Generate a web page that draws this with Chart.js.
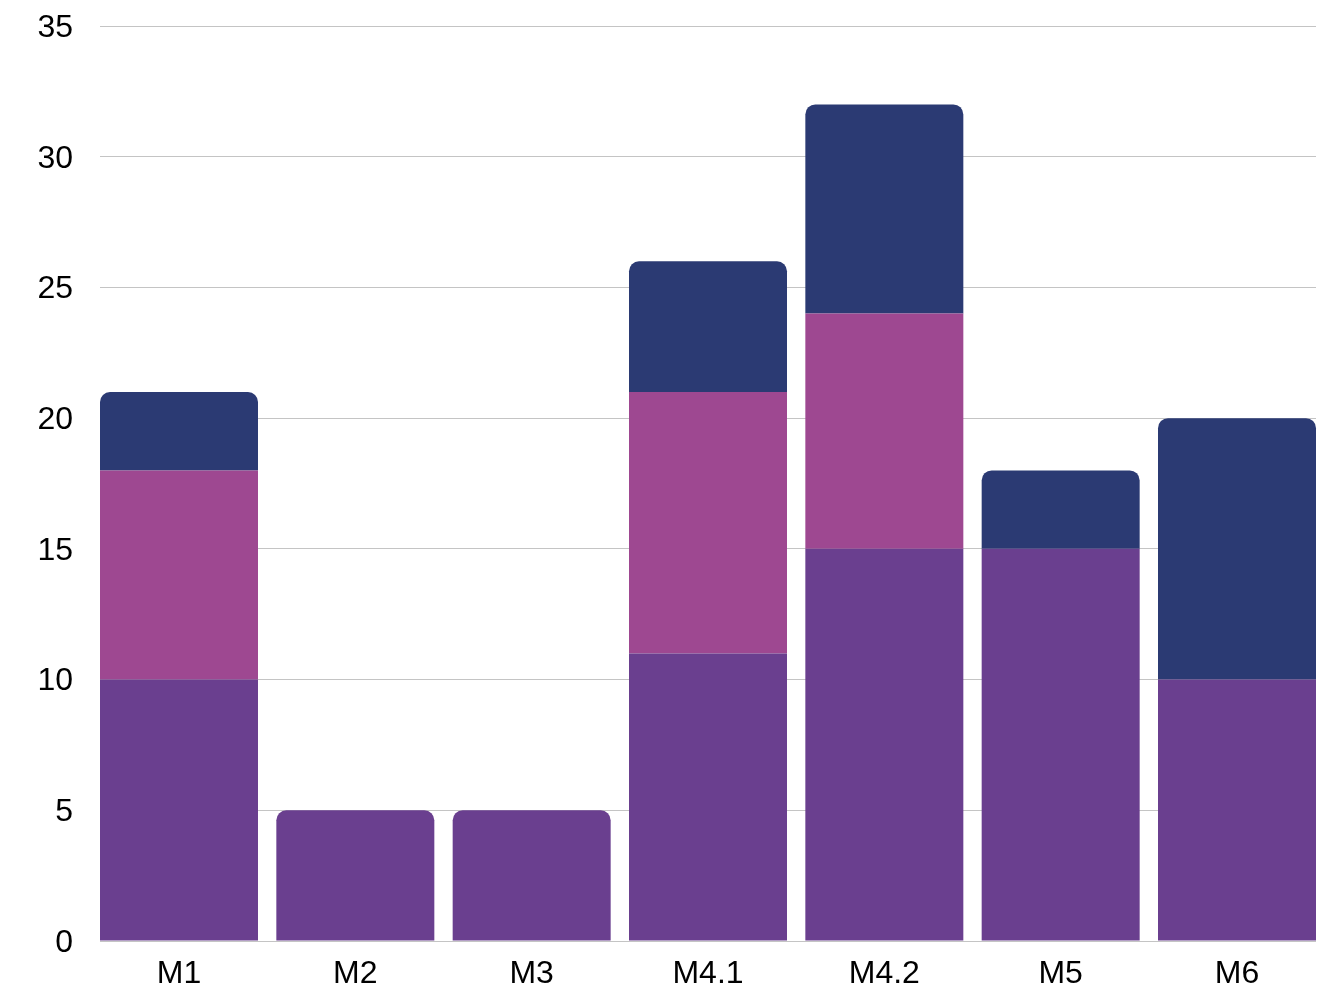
<!DOCTYPE html>
<html>
<head>
<meta charset="utf-8">
<script src="https://cdn.jsdelivr.net/npm/chart.js@4"></script>
<style>
html,body{margin:0;padding:0;background:#fff;}
#wrap{width:1334px;height:990px;position:relative;}
</style>
</head>
<body>
<div id="wrap"><canvas id="c" width="1334" height="990"></canvas></div>
<script>
const categories = ["M1", "M2", "M3", "M4.1", "M4.2", "M5", "M6"];
const seriesBottom = [10, 5, 5, 11, 15, 15, 10];
const seriesMiddle = [8, 0, 0, 10, 9, 0, 0];
const seriesTop = [3, 0, 0, 5, 8, 3, 10];
const yTicks = [0, 5, 10, 15, 20, 25, 30, 35];

const colors = ["#6a3f8f", "#9e4891", "#2b3a73"];
const FONT = "'Liberation Sans', Arial, sans-serif";
const BAR_FRAC = 0.896;

const toPoints = arr => arr.map((v, i) => ({x: i, y: v}));

new Chart(document.getElementById('c'), {
  type: 'bar',
  data: {
    datasets: [
      {label: 'A', data: toPoints(seriesBottom), backgroundColor: colors[0]},
      {label: 'B', data: toPoints(seriesMiddle), backgroundColor: colors[1]},
      {label: 'C', data: toPoints(seriesTop), backgroundColor: colors[2]}
    ].map(d => Object.assign(d, {borderRadius: 10, borderSkipped: 'start', categoryPercentage: 1, barPercentage: BAR_FRAC, clip: false}))
  },
  options: {
    responsive: false,
    animation: false,
    layout: {padding: {top: 26, right: 18, bottom: 0, left: 0}},
    plugins: {legend: {display: false}, tooltip: {enabled: false}},
    scales: {
      x: {
        type: 'linear',
        stacked: true,
        offset: false,
        min: -BAR_FRAC / 2,
        max: categories.length - 1 + BAR_FRAC / 2,
        afterBuildTicks: s => { s.ticks = categories.map((c, i) => ({value: i})); },
        afterFit: s => { s.height = 49; s.paddingLeft = 0; s.paddingRight = 0; },
        grid: {display: false, drawTicks: false},
        border: {display: false},
        ticks: {color: '#000', font: {family: FONT, size: 32}, padding: 14, maxRotation: 0, autoSkip: false,
                callback: v => categories[v]}
      },
      y: {
        stacked: true,
        min: 0, max: 35,
        afterBuildTicks: s => { s.ticks = yTicks.map(v => ({value: v})); },
        afterFit: s => { s.width = 100; s.paddingTop = 0; s.paddingBottom = 0; },
        grid: {color: '#c4c4c4', lineWidth: 1, drawTicks: false},
        border: {display: false},
        ticks: {color: '#000', font: {family: FONT, size: 32}, padding: 27, labelOffset: 2}
      }
    }
  }
});
</script>
</body>
</html>
